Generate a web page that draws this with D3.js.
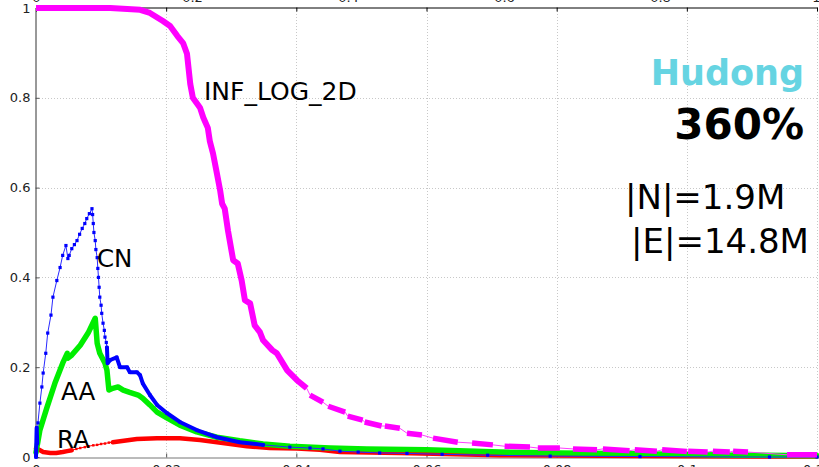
<!DOCTYPE html>
<html>
<head>
<meta charset="utf-8">
<script src="https://cdn.jsdelivr.net/npm/d3@7"></script>
<style>
  html, body { margin: 0; padding: 0; background: #fff; }
  svg { display: block; font-family: "DejaVu Sans", sans-serif; }
</style>
</head>
<body>
<svg id="chart" width="819" height="467"></svg>
<script>
// ---- axis ticks ----
const xTicks = [0, 0.02, 0.04, 0.06, 0.08, 0.1, 0.12];
const xTickLabels = ["0", "0.02", "0.04", "0.06", "0.08", "0.1", "0.12"];
const yTicks = [0, 0.2, 0.4, 0.6, 0.8, 1];
const yTickLabels = ["0", "0.2", "0.4", "0.6", "0.8", "1"];
const topTicks = [0, 0.2, 0.4, 0.6, 0.8, 1];
const topTickLabels = ["0", "0.2", "0.4", "0.6", "0.8", "1"];

// ---- series: [x, y] ----
const cnPoints = [
  [0, 0], [0.0001, 0.065], [0.0002, 0.03], [0.0003, 0.076], [0.0006, 0.12], [0.0009, 0.156],
  [0.0011, 0.187], [0.0015, 0.231], [0.0018, 0.276], [0.0023, 0.316], [0.0026, 0.356],
  [0.0032, 0.393], [0.0037, 0.422], [0.0041, 0.449], [0.0046, 0.471], [0.0049, 0.442],
  [0.0051, 0.449], [0.0055, 0.464], [0.0059, 0.473], [0.0063, 0.482], [0.0067, 0.496],
  [0.0071, 0.509], [0.0075, 0.52], [0.0078, 0.531], [0.0082, 0.542], [0.0086, 0.553],
  [0.0087, 0.54], [0.0088, 0.52], [0.0089, 0.5], [0.0091, 0.482], [0.0092, 0.462],
  [0.0094, 0.444], [0.0095, 0.42], [0.0096, 0.4], [0.0097, 0.378], [0.0098, 0.356],
  [0.0100, 0.338], [0.0101, 0.32], [0.0103, 0.298], [0.0105, 0.282], [0.0106, 0.267],
  [0.0108, 0.255], [0.0109, 0.244], [0.0110, 0.209], [0.0114, 0.216], [0.0124, 0.222],
  [0.0129, 0.2], [0.014, 0.2], [0.0144, 0.189], [0.0155, 0.189], [0.016, 0.182],
  [0.0164, 0.164], [0.0175, 0.138], [0.0186, 0.116], [0.0201, 0.098], [0.0221, 0.078],
  [0.0247, 0.06], [0.0278, 0.044], [0.0313, 0.033], [0.0349, 0.027], [0.039, 0.022],
  [0.0421, 0.02], [0.0441, 0.018], [0.0467, 0.013], [0.0495, 0.011], [0.0528, 0.009],
  [0.057, 0.008], [0.0624, 0.006], [0.0694, 0.004], [0.079, 0.002], [0.0928, 0.001],
  [0.1127, 0.0], [0.12, 0.0]
];
const cnDense = [[0, 0.0002], [0.0109, 0.036]];

const aaPoints = [
  [0, 0.01], [0.0006, 0.06], [0.0017, 0.111], [0.0029, 0.164], [0.0041, 0.209],
  [0.0048, 0.231], [0.0049, 0.22], [0.0055, 0.227], [0.0068, 0.249], [0.008, 0.276],
  [0.0091, 0.309], [0.0094, 0.253], [0.0098, 0.231], [0.0106, 0.209], [0.0109, 0.193],
  [0.0112, 0.149], [0.0118, 0.153], [0.0126, 0.156], [0.0134, 0.149], [0.0144, 0.144],
  [0.0157, 0.138], [0.0164, 0.131], [0.0175, 0.116], [0.0186, 0.1], [0.0201, 0.087],
  [0.0221, 0.071], [0.0247, 0.056], [0.0278, 0.044], [0.0313, 0.036], [0.0349, 0.029],
  [0.039, 0.024], [0.0452, 0.02], [0.0508, 0.018], [0.06, 0.016], [0.0713, 0.011],
  [0.0805, 0.009], [0.0928, 0.007], [0.1081, 0.004], [0.12, 0.003]
];

const raPoints = [
  [0, 0.02], [0.0011, 0.011], [0.0022, 0.009], [0.0031, 0.009], [0.0041, 0.011],
  [0.0048, 0.013], [0.0055, 0.015], [0.0062, 0.018], [0.0068, 0.02], [0.0075, 0.022],
  [0.0081, 0.024], [0.0088, 0.026], [0.0094, 0.027], [0.0100, 0.029], [0.0106, 0.03],
  [0.0112, 0.032], [0.0118, 0.033], [0.0155, 0.04], [0.0186, 0.042], [0.0221, 0.042],
  [0.0252, 0.038], [0.0287, 0.031], [0.0324, 0.024], [0.0359, 0.02], [0.0401, 0.019],
  [0.0436, 0.016], [0.0467, 0.011], [0.0559, 0.009], [0.0713, 0.004], [0.0943, 0.002],
  [0.12, 0.001]
];
const raDense = [[0, 0.0055], [0.0118, 0.12]];

const infCurve = [
  [0, 1.0], [0.0114, 1.0], [0.016, 0.996], [0.0175, 0.989], [0.0195, 0.971],
  [0.0206, 0.96], [0.0217, 0.938], [0.0226, 0.922], [0.0232, 0.898], [0.0237, 0.831],
  [0.0241, 0.8], [0.0252, 0.778], [0.0257, 0.756], [0.0264, 0.733], [0.0267, 0.704],
  [0.0272, 0.676], [0.0278, 0.631], [0.0283, 0.593], [0.0286, 0.564], [0.029, 0.553],
  [0.0295, 0.504], [0.0303, 0.438], [0.031, 0.431], [0.0316, 0.393], [0.0321, 0.349],
  [0.0329, 0.342], [0.0336, 0.293], [0.0344, 0.278], [0.0349, 0.26], [0.0363, 0.238],
  [0.037, 0.231], [0.0386, 0.193], [0.0401, 0.171], [0.0416, 0.153]
];
// clustered runs of points in the tail: [start, end]
const infRuns = [
  [[0.0421, 0.138], [0.0441, 0.122]],
  [[0.0449, 0.113], [0.0475, 0.1]],
  [[0.0479, 0.091], [0.0502, 0.082]],
  [[0.0505, 0.078], [0.0531, 0.069]],
  [[0.0536, 0.069], [0.0559, 0.064]],
  [[0.057, 0.053], [0.0593, 0.049]],
  [[0.061, 0.042], [0.0648, 0.033]],
  [[0.067, 0.031], [0.0702, 0.027]],
  [[0.072, 0.024], [0.0759, 0.022]],
  [[0.0771, 0.02], [0.0805, 0.02]],
  [[0.0825, 0.018], [0.0862, 0.016]],
  [[0.0871, 0.018], [0.0912, 0.014]],
  [[0.092, 0.016], [0.0954, 0.013]],
  [[0.0962, 0.016], [0.1, 0.012]],
  [[0.1002, 0.013], [0.1032, 0.011]],
  [[0.104, 0.013], [0.1066, 0.011]],
  [[0.1071, 0.013], [0.1094, 0.011]],
  [[0.1154, 0.005], [0.12, 0.005]]
];

// ---- layout ----
const svg = d3.select("#chart");
const x = d3.scaleLinear().domain([0, 0.12]).range([36, 817]);
const xTop = d3.scaleLinear().domain([0, 1]).range([36, 816]);
const y = d3.scaleLinear().domain([0, 1]).range([457, 8]);

// grid
const grid = svg.append("g").attr("stroke", "#c8c8c8").attr("stroke-dasharray", "1,2").attr("stroke-width", 1);
grid.selectAll("line.v").data(xTicks.slice(1)).join("line")
  .attr("x1", d => Math.round(x(d)) + 0.5).attr("x2", d => Math.round(x(d)) + 0.5)
  .attr("y1", y(1)).attr("y2", y(0));
grid.selectAll("line.h").data(yTicks.slice(1, -1)).join("line")
  .attr("x1", x(0)).attr("x2", x(0.12))
  .attr("y1", d => Math.round(y(d)) + 0.5).attr("y2", d => Math.round(y(d)) + 0.5);

// axes
const fmtX = (d, i) => xTickLabels[i];
const axB = svg.append("g").attr("transform", `translate(0,${y(0) + 0.5})`)
  .call(d3.axisBottom(x).tickValues(xTicks).tickFormat(fmtX).tickSizeInner(-4).tickSizeOuter(0).tickPadding(7));
const axL = svg.append("g").attr("transform", `translate(${x(0) - 0.5},0)`)
  .call(d3.axisLeft(y).tickValues(yTicks).tickFormat((d, i) => yTickLabels[i]).tickSizeInner(-4).tickSizeOuter(0).tickPadding(5));
const axT = svg.append("g").attr("transform", `translate(0,${y(1) - 0.5})`)
  .call(d3.axisTop(xTop).tickValues(topTicks).tickFormat((d, i) => topTickLabels[i]).tickSize(0).tickPadding(6));
axT.select(".domain").remove();
svg.append("g").attr("transform", `translate(0,${y(1) - 0.5})`)
  .call(d3.axisTop(x).tickValues(xTicks).tickFormat("").tickSizeInner(-4).tickSizeOuter(0));
[axB, axL, axT].forEach(a => {
  a.selectAll("text").attr("font-size", 13).attr("fill", "#222").attr("font-family", "DejaVu Sans");
  a.selectAll("line").attr("stroke", "#555");
});
axB.select(".domain").attr("stroke", "#777");
axL.select(".domain").attr("stroke", "#333");
svg.selectAll(".domain").attr("stroke-width", 1);

const line = d3.line().x(d => x(d[0])).y(d => y(d[1]));
const inRanges = (ranges) => (d) => ranges.some(r => d[0] >= r[0] && d[0] <= r[1]);
const plot = svg.append("g");

// RA
plot.append("path").datum(raPoints).attr("d", line)
  .attr("fill", "none").attr("stroke", "#ff0000").attr("stroke-width", 1);
raDense.forEach(r => {
  plot.append("path").datum(raPoints.filter(inRanges([r]))).attr("d", line)
    .attr("fill", "none").attr("stroke", "#ff0000").attr("stroke-width", 4.5)
    .attr("stroke-linejoin", "round").attr("stroke-linecap", "round");
});
plot.append("g").selectAll("rect").data(raPoints).join("rect")
  .attr("x", d => x(d[0]) - 1.2).attr("y", d => y(d[1]) - 1.2)
  .attr("width", 2.4).attr("height", 2.4).attr("fill", "#ff0000");

// AA
plot.append("path").datum(aaPoints).attr("d", line)
  .attr("fill", "none").attr("stroke", "#00ee00").attr("stroke-width", 5.5)
  .attr("stroke-linejoin", "round").attr("stroke-linecap", "round");

// CN
plot.append("path").datum(cnPoints).attr("d", line)
  .attr("fill", "none").attr("stroke", "#2a2aff").attr("stroke-width", 1);
cnDense.forEach(r => {
  plot.append("path").datum(cnPoints.filter(inRanges([r]))).attr("d", line)
    .attr("fill", "none").attr("stroke", "#0000ff").attr("stroke-width", 4)
    .attr("stroke-linejoin", "round").attr("stroke-linecap", "round");
});
plot.append("g").selectAll("rect").data(cnPoints).join("rect")
  .attr("x", d => x(d[0]) - 1.6).attr("y", d => y(d[1]) - 1.6)
  .attr("width", 3.2).attr("height", 3.2).attr("fill", "#0000ff");

// INF_LOG_2D
const infAll = infCurve.concat(...infRuns);
plot.append("path").datum(infAll).attr("d", line)
  .attr("fill", "none").attr("stroke", "#ff40ff").attr("stroke-width", 1);
plot.append("path").datum(infCurve).attr("d", line)
  .attr("fill", "none").attr("stroke", "#ff00ff").attr("stroke-width", 6)
  .attr("stroke-linejoin", "round");
plot.append("g").selectAll("path").data(infRuns).join("path")
  .attr("d", line).attr("fill", "none").attr("stroke", "#ff00ff").attr("stroke-width", 5.5);

// labels
const lab = svg.append("g").attr("fill", "#000");
lab.append("text").attr("x", 204).attr("y", 100).attr("font-size", 25).text("INF_LOG_2D");
lab.append("text").attr("x", 97).attr("y", 267).attr("font-size", 24.5).text("CN");
lab.append("text").attr("x", 61).attr("y", 400).attr("font-size", 24.5).text("AA");
lab.append("text").attr("x", 57).attr("y", 448).attr("font-size", 24.5).text("RA");

lab.append("text").attr("x", 804).attr("y", 85).attr("text-anchor", "end")
  .attr("font-size", 35).attr("font-weight", "bold").attr("fill", "#66d4e2").text("Hudong");
lab.append("text").attr("x", 804).attr("y", 139).attr("text-anchor", "end")
  .attr("font-size", 42).attr("font-weight", "bold").text("360%");
lab.append("text").attr("x", 625).attr("y", 209).attr("font-size", 34).text("|N|=1.9M");
lab.append("text").attr("x", 631).attr("y", 253).attr("font-size", 34).text("|E|=14.8M");
</script>
</body>
</html>
